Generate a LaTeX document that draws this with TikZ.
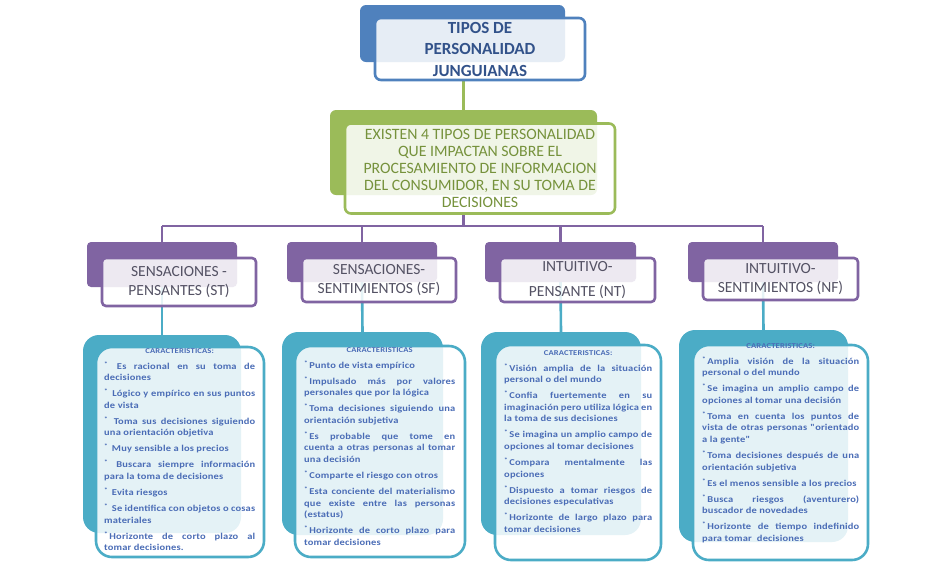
\documentclass[tikz,border=0pt]{standalone}
\usepackage{fontspec}
\setmainfont{Carlito}
\newfontfamily\carfont[LetterSpace=2,FakeStretch=1.16]{Carlito}
\usetikzlibrary{positioning,backgrounds}
\definecolor{JGblue}{RGB}{79,129,189}
\definecolor{JGbluetxt}{RGB}{50,82,138}
\definecolor{JGgreen}{RGB}{155,187,89}
\definecolor{JGgreentxt}{RGB}{118,146,60}
\definecolor{JGpurple}{RGB}{128,100,162}
\definecolor{JGgraytxt}{RGB}{84,82,100}
\definecolor{JGteal}{RGB}{75,172,198}
\definecolor{JGtealtxt}{RGB}{74,108,182}
\newcommand{\itm}{\par\vspace{4.4pt}\raisebox{3pt}{\fontsize{6.5}{6.5}\selectfont*}\,}
\newcommand{\cartit}[1]{\makebox[\hsize][c]{\fontsize{7.4}{8}\selectfont #1}}
\tikzset{
  sz/.style 2 args={minimum width=#1,minimum height=#2},
  backbox/.style={rounded corners=6pt,inner sep=0pt,draw=none},
  frontbox/.style={rounded corners=6pt,line width=2.6pt,fill=white,fill opacity=0.86,
                   text opacity=1,align=center,inner sep=0pt},
  bluebk/.style={backbox,fill=JGblue},
  bluefr/.style={frontbox,draw=JGblue,text=JGbluetxt,font=\fontsize{17}{21.5}\selectfont\bfseries},
  greenbk/.style={backbox,fill=JGgreen},
  greenfr/.style={frontbox,draw=JGgreen,text=JGgreentxt,font=\fontsize{15.8}{17.2}\selectfont},
  catbk/.style={backbox,fill=JGpurple,rounded corners=4pt},
  catfr/.style={frontbox,draw=JGpurple,text=JGgraytxt,rounded corners=4pt,font=\fontsize{15.5}{18.5}\selectfont},
  carbk/.style={backbox,fill=JGteal,rounded corners=16pt},
  carfr/.style={frontbox,draw=JGteal,rounded corners=16pt,fill opacity=0.85},
  cartxt/.style={anchor=north west,inner sep=0pt,align=justify,text=JGtealtxt,
                 font=\carfont\bfseries\fontsize{9}{11.6}\selectfont,
                 execute at begin node={\hyphenpenalty=10000\relax}},
  lnG/.style={line width=2.6pt,draw=JGgreen},
  lnP/.style={line width=2.6pt,draw=JGpurple},
  lnT/.style={line width=2.6pt,draw=JGteal}
}

\begin{document}
\begin{tikzpicture}[x=1pt,y=-1pt]
  \useasboundingbox (0,0) rectangle (944,566);
  % titulo
  \node[bluebk,sz={205}{57}] (tipoB) at (462.5,33.5) {};
  \node[bluefr,sz={210}{62}] (tipo) at (480,49) {TIPOS DE\\PERSONALIDAD\\JUNGUIANAS};
  \node[greenbk,sz={267}{85}] (exisB) at (463.5,152.5) {};
  \node[greenfr,sz={270}{90}] (exis) at (480,168.5)
    {EXISTEN 4 TIPOS DE PERSONALIDAD\\QUE IMPACTAN SOBRE EL\\PROCESAMIENTO DE INFORMACION\\DEL CONSUMIDOR, EN SU TOMA DE\\DECISIONES};
  \coordinate (bus) at (463.5,226);
  % tipos
  \node[catbk,sz={150}{45}] (catB1) at (162,264.5) {};
  \node[catfr,sz={154}{48}] (cat1) at (179,282) {SENSACIONES -\\PENSANTES (ST)};
  \node[catbk,sz={150}{40}] (catB2) at (362,262) {};
  \node[catfr,sz={154}{44}] (cat2) at (379,280) {SENSACIONES-\\SENTIMIENTOS (SF)};
  \node[catbk,sz={151}{40}] (catB3) at (560.5,262) {};
  \node[catfr,sz={155}{44}] (cat3) at (577.5,280) {INTUITIVO-\\[6pt]PENSANTE (NT)};
  \node[catbk,sz={150}{40}] (catB4) at (763,262) {};
  \node[catfr,sz={155}{42}] (cat4) at (780.5,279) {INTUITIVO-\\SENTIMIENTOS (NF)};
  % caracteristicas
  \node[carbk,sz={158}{198}] (carB1) at (162,434) {};
  \node[carfr,sz={168}{210}] (car1) at (180,452) {};
  \node[carbk,sz={161}{203}] (carB2) at (362.5,433.5) {};
  \node[carfr,sz={170}{211}] (car2) at (380,451.5) {};
  \node[carbk,sz={160}{203}] (carB3) at (561,433.5) {};
  \node[carfr,sz={166}{215}] (car3) at (578,452.5) {};
  \node[carbk,sz={169}{212}] (carB4) at (763.5,436) {};
  \node[carfr,sz={175}{215}] (car4) at (780.5,452.5) {};

  \node[cartxt,text width=151pt] (txt1) at (104,348) {\cartit{CARACTERISTICAS:}
    \itm\ Es racional en su toma de\linebreak decisiones
    \itm\ Lógico y empírico en sus puntos\linebreak de vista
    \itm\ Toma sus decisiones siguiendo\linebreak una orientación objetiva
    \itm\ Muy sensible a los precios
    \itm\ Buscara siempre información\linebreak para la toma de decisiones
    \itm\ Evita riesgos
    \itm\ Se identifica con objetos o cosas\linebreak materiales
    \itm Horizonte de corto plazo al\linebreak tomar decisiones.};
  \node[cartxt,text width=151pt] (txt2) at (304,347) {\cartit{CARACTERISTICAS}
    \itm Punto de vista empírico
    \itm Impulsado más por valores\linebreak personales que por la lógica
    \itm Toma decisiones siguiendo una\linebreak orientación subjetiva
    \itm Es probable que tome en\linebreak cuenta a otras personas al tomar\linebreak una decisión
    \itm Comparte el riesgo con otros
    \itm Esta conciente del materialismo\linebreak que existe entre las personas\linebreak (estatus)
    \itm Horizonte de corto plazo para\linebreak tomar decisiones};
  \node[cartxt,text width=148pt] (txt3) at (504,350) {\cartit{CARACTERISTICAS:}
    \itm Visión amplia de la situación\linebreak personal o del mundo
    \itm Confia fuertemente en su\linebreak imaginación pero utiliza lógica en\linebreak la toma de sus decisiones
    \itm Se imagina un amplio campo de\linebreak opciones al tomar decisiones
    \itm Compara mentalmente las\linebreak opciones
    \itm Dispuesto a tomar riesgos de\linebreak decisiones especulativas
    \itm Horizonte de largo plazo para\linebreak tomar decisiones};
  \node[cartxt,text width=157pt] (txt4) at (702,343) {\cartit{CARACTERISTICAS:}
    \itm Amplia visión de la situación\linebreak personal o del mundo
    \itm Se imagina un amplio campo de\linebreak opciones al tomar una decisión
    \itm Toma en cuenta los puntos de\linebreak vista de otras personas "orientado\linebreak a la gente"
    \itm Toma decisiones después de una\linebreak orientación subjetiva
    \itm Es el menos sensible a los precios
    \itm Busca riesgos (aventurero)\linebreak buscador de novedades
    \itm Horizonte de tiempo indefinido\linebreak para tomar\ \ decisiones};

  % conectores
  \begin{scope}[on background layer]
    \draw[lnG] (exisB.north) -- (exisB.north |- tipo.south);
    \draw[lnP] (exis.south -| bus) -- (bus);
    \draw[lnP] (catB1.north |- bus) -- (catB4.north |- bus);
    \draw[lnP] (catB1.north |- bus) -- (catB1.north);
    \draw[lnP] (catB2.north |- bus) -- (catB2.north);
    \draw[lnP] (catB3.north |- bus) -- (catB3.north);
    \draw[lnP] (catB4.north |- bus) -- (catB4.north);
    \draw[lnT] (catB1.south) -- (carB1.north);
    \draw[lnT] (catB2.south) -- (carB2.north);
    \draw[lnT] (catB3.south) -- (carB3.north);
    \draw[lnT] (catB4.south) -- (carB4.north);
  \end{scope}
\end{tikzpicture}
\end{document}
